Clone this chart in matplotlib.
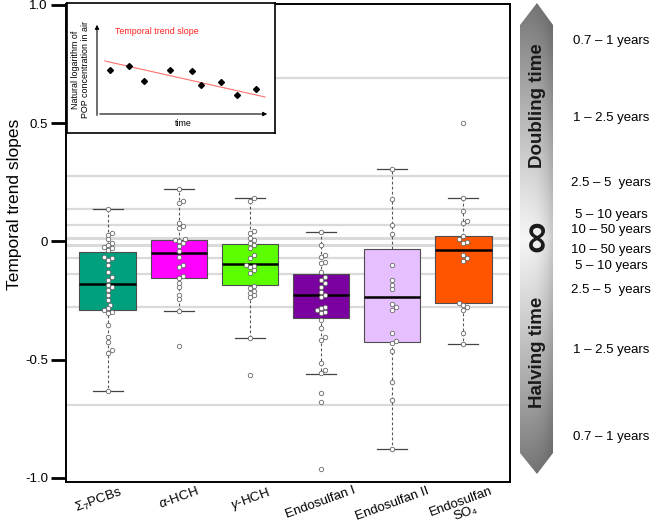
import numpy as np
import matplotlib.pyplot as plt
import matplotlib.transforms as mtransforms
from matplotlib.patches import Polygon

plt.rcParams['font.family'] = ['Liberation Sans', 'DejaVu Sans']
plt.rcParams['mathtext.fontset'] = 'custom'
plt.rcParams['mathtext.rm'] = 'Liberation Sans'
plt.rcParams['mathtext.it'] = 'Liberation Sans:italic'

# compounds
labels = ['Σ$_7$PCBs', r'$\alpha$-HCH', r'$\gamma$-HCH', 'Endosulfan I', 'Endosulfan II', 'Endosulfan\nSO₄']
colors = ['#00A07E', '#FF00FF', '#5CFF00', '#7A00A0', '#E6BFFF', '#FF5500']

# box statistics
q1 = [-0.291, -0.153, -0.185, -0.322, -0.426, -0.261]
med = [-0.181, -0.050, -0.097, -0.226, -0.233, -0.037]
q3 = [-0.043, 0.006, -0.011, -0.137, -0.030, 0.023]
whislo = [-0.632, -0.294, -0.409, -0.560, -0.879, -0.433]
whishi = [0.136, 0.221, 0.183, 0.039, 0.307, 0.183]

# individual slopes (site values)
pcbs = [0.136, 0.037, 0.027, 0.009, -0.008, -0.015, -0.022, -0.029, -0.036, -0.064, -0.071,
        -0.078, -0.099, -0.128, -0.149, -0.163, -0.184, -0.194, -0.205, -0.226, -0.247,
        -0.268, -0.283, -0.290, -0.297, -0.304, -0.353, -0.402, -0.424, -0.459, -0.473, -0.632]
a_hch = [0.221, 0.173, 0.164, 0.077, 0.067, 0.056, 0.011, 0.006, 0.002, -0.005, -0.019, -0.039,
         -0.064, -0.099, -0.109, -0.146, -0.156, -0.174, -0.194, -0.226, -0.244, -0.293, -0.441]
g_hch = [0.183, 0.173, 0.046, 0.037, 0.014, 0.006, -0.008, -0.015, -0.029, -0.057, -0.071,
         -0.099, -0.104, -0.109, -0.121, -0.134, -0.188, -0.198, -0.208, -0.216, -0.226, -0.233,
         -0.409, -0.565]
endo1 = [0.039, -0.015, -0.057, -0.064, -0.085, -0.092, -0.128, -0.149, -0.163, -0.177, -0.191,
         -0.212, -0.226, -0.233, -0.276, -0.283, -0.290, -0.297, -0.304, -0.332, -0.367, -0.402,
         -0.416, -0.512, -0.543, -0.557, -0.641, -0.677, -0.963]
endo2 = [0.307, 0.180, 0.070, 0.032, -0.099, -0.163, -0.184, -0.202, -0.264, -0.276, -0.290,
         -0.388, -0.419, -0.431, -0.463, -0.593, -0.670, -0.879]
endo_so4 = [0.500, 0.183, 0.129, 0.087, 0.080, 0.023, 0.009, -0.001, -0.005, -0.057, -0.071,
            -0.081, -0.261, -0.268, -0.276, -0.290, -0.386, -0.433]
points = [pcbs, a_hch, g_hch, endo1, endo2, endo_so4]

# doubling / halving times (years) for the guide lines
guide_times = [1, 2.5, 5, 10, 50]
time_labels = ['0.7 – 1 years', '1 – 2.5 years', '2.5 – 5  years', '5 – 10 years', '10 – 50 years',
               '10 – 50 years', '5 – 10 years', '2.5 – 5  years', '1 – 2.5 years', '0.7 – 1 years']
time_label_y = [41, 118, 183, 215, 230, 250, 266, 290, 350, 437]

# inset example
inset_t = [0.75, 1.85, 2.72, 4.22, 5.49, 6.01, 7.17, 8.09, 9.19]
inset_lnc = [4.78, 5.22, 3.59, 4.78, 4.67, 3.15, 3.48, 2.07, 2.72]
trend_t = [0.46, 9.71]
trend_lnc = [5.76, 1.85]


def swarm(vals, d=4.0, ppu=236.5, step=2.0):
    vals = np.asarray(vals)
    out = np.zeros(len(vals))
    placed = []
    for i in np.argsort(vals):
        y = vals[i] * ppu
        for k in range(40):
            x = ((k + 1) // 2) * step * (1 if k % 2 else -1)
            if all((x - px) ** 2 + (y - py) ** 2 >= d ** 2 for px, py in placed):
                break
        placed.append((x, y))
        out[i] = x
    return out


W, H = 653, 530
fig = plt.figure(figsize=(W / 100, H / 100), dpi=100)

# overlay in pixel units for the right-hand arrow
oax = fig.add_axes([0, 0, 1, 1])
oax.axis('off')
ty = np.linspace(0, 1, 300)[:, None]
tx = np.linspace(0, 1, 40)[None, :]
grad = (0.96 - 0.5 * np.abs(2 * ty - 1) ** 1.1) * (1 - 0.18 * tx ** 3)
img = oax.imshow(grad, cmap='gray', vmin=0, vmax=1, extent=(520, 553, 474, 3),
                 aspect='auto', interpolation='bilinear')
arrow = Polygon([(537, 3), (553, 25), (553, 453), (537, 474), (520, 453), (520, 25)],
                closed=True, facecolor='none', edgecolor='none')
oax.add_patch(arrow)
img.set_clip_path(arrow)
oax.set_xlim(0, W)
oax.set_ylim(H, 0)
oax.text(538, 106, 'Doubling time', rotation=90, ha='center', va='center',
         fontsize=13.5, fontweight='bold', color='#1a1a1a')
oax.text(538, 352, 'Halving time', rotation=90, ha='center', va='center',
         fontsize=13.5, fontweight='bold', color='#1a1a1a')
oax.text(538, 236, '∞', rotation=90, ha='center', va='center', fontsize=32,
         fontweight='bold', color='#1a1a1a')
for lab, y in zip(time_labels, time_label_y):
    oax.text(611, y, lab, ha='center', va='center', fontsize=9.5)

# main plot
ax = fig.add_axes([66 / W, 1 - 482 / H, 444 / W, 478 / H])
for t in guide_times:
    for s in (1, -1):
        ax.axhline(s * np.log(2) / t, color='#dadada', lw=2.2 if t == 50 else 1.6, zorder=1)

stats = [dict(med=med[i], q1=q1[i], q3=q3[i], whislo=whislo[i], whishi=whishi[i], fliers=[])
         for i in range(len(labels))]
pos = np.arange(1, len(labels) + 1)
bp = ax.bxp(stats, positions=pos, widths=0.8, patch_artist=True, showfliers=False,
            capwidths=0.42,
            boxprops=dict(edgecolor='#4d4d4d', linewidth=0.8),
            medianprops=dict(color='black', linewidth=1.8),
            whiskerprops=dict(color='#555555', linestyle=(0, (2.5, 2)), linewidth=0.8),
            capprops=dict(color='#444444', linewidth=0.9))
for patch, c in zip(bp['boxes'], colors):
    patch.set_facecolor(c)
    patch.set_zorder(2)

for p, vals in zip(pos, points):
    xo = swarm(vals) / 71.0
    ax.plot(p + xo, vals, 'o', ms=3.2, mfc='white', mec='#6a6a6a', mew=0.6, zorder=3, ls='none')

ax.set_xlim(0.41, 6.66)
ax.set_ylim(-1.017, 1.004)
ax.set_yticks([1.0, 0.5, 0, -0.5, -1.0])
ax.set_yticklabels(['1.0', '0.5', '0', '-0.5', '-1.0'])
ax.set_xticks(pos)
ax.set_xticklabels(labels, rotation=20, ha='center', fontsize=9.5, linespacing=1.0)
ax.tick_params(axis='x', length=0, pad=2)
ax.tick_params(axis='y', length=11, width=2, labelsize=9.5, pad=2)
# first label sits a little to the left in the original
lbl0 = ax.get_xticklabels()[0]
lbl0.set_transform(lbl0.get_transform() + mtransforms.ScaledTranslation(-9 / 100, 0, fig.dpi_scale_trans))
for sp in ax.spines.values():
    sp.set_linewidth(1.4)
ax.set_ylabel('Temporal trend slopes', fontsize=12.5)
ax.yaxis.set_label_coords(-0.1, 0.58)

# inset sketch
ins = fig.add_axes([67 / W, 1 - 133 / H, 208 / W, 130 / H])
ins.set_xticks([])
ins.set_yticks([])
for sp in ins.spines.values():
    sp.set_linewidth(1.2)
ins.set_zorder(5)

inn = fig.add_axes([97 / W, 1 - 114 / H, 173 / W, 92 / H])
inn.set_zorder(6)
inn.axis('off')
inn.set_xlim(0, 10)
inn.set_ylim(0, 10)
inn.annotate('', xy=(0, 10), xytext=(0, -0.45),
             arrowprops=dict(arrowstyle='-|>', color='black', lw=0.8, mutation_scale=6))
inn.annotate('', xy=(10, 0), xytext=(0, 0),
             arrowprops=dict(arrowstyle='-|>', color='black', lw=0.8, mutation_scale=6))
inn.plot(trend_t, trend_lnc, color='#ff7070', lw=0.8)
inn.plot(inset_t, inset_lnc, 'D', color='black', ms=3.0, ls='none')
inn.text(1.04, 9.0, 'Temporal trend slope', color='#ff2020', fontsize=6.4, ha='left', va='center')
inn.text(4.97, -0.98, 'time', fontsize=6.4, ha='center', va='center', clip_on=False)
inn.text(-0.95, 4.8, 'Natural logarithm of\nPOP concentration in air', rotation=90,
         fontsize=6.4, ha='center', va='center', linespacing=1.15, clip_on=False)

fig.savefig('out.png', dpi=100)
